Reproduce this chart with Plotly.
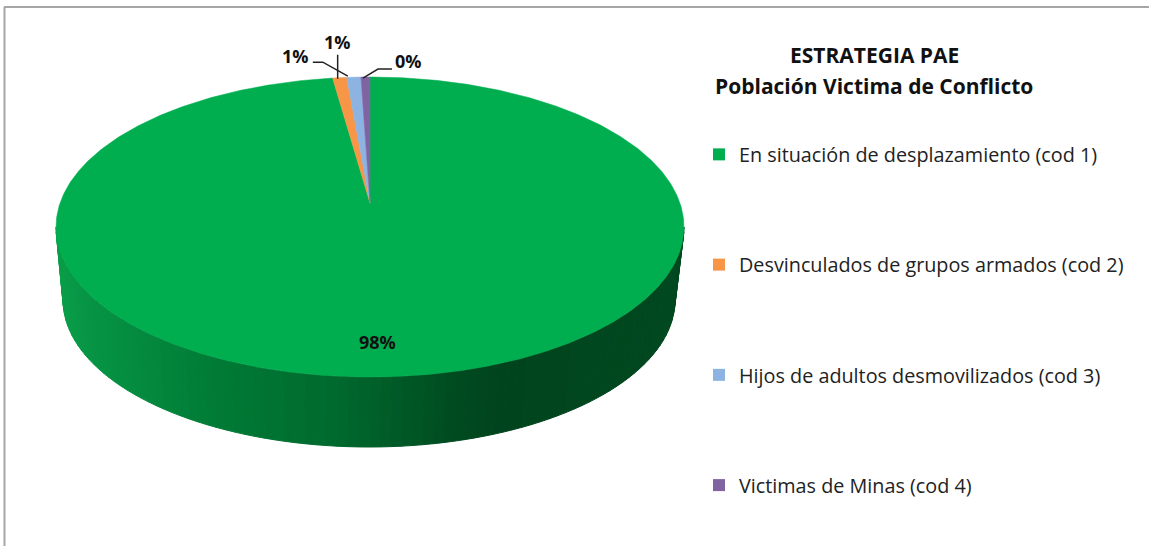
import numpy as np
import plotly.graph_objects as go

# ---- data ----
categories = ["En situación de desplazamiento (cod 1)", "Desvinculados de grupos armados (cod 2)",
              "Hijos de adultos desmovilizados (cod 3)", "Victimas de Minas (cod 4)"]
values = [98.1, 0.72, 0.72, 0.46]
colors = ["#00AE50", "#F79646", "#8DB3E2", "#8064A2"]
title_lines = ["ESTRATEGIA PAE", "Población Victima de Conflicto"]

# ---- view of the tilted pie: one data unit is the pie radius ----
W, H = 1149, 546
CX, CY, RX, RY = 370, 227, 314, 150
X_RANGE = [-CX / RX, (W - CX) / RX]
Y_RANGE = [(CY - H) / RY, CY / RY]
APEX_Y = 24 / RY                       # perspective moves the pie centre up
BOTTOM = dict(cx=-1 / RX, cy=-73 / RY, rx=306 / RX, ry=147 / RY)
FONT = "Open Sans"

def rim(a):
    """a = degrees clockwise from top."""
    t = np.radians(a)
    return np.sin(t), np.cos(t)

fig = go.Figure()

# side wall of the cylinder, shaded left to right
stops_x = [-1.0, -0.92, -0.52, -0.115, 0.29, 0.42, 1.0]
stops_rgb = np.array([[10, 158, 72], [6, 150, 69], [0, 124, 54], [0, 106, 46],
                      [0, 74, 32], [0, 68, 29], [0, 72, 31]], float)
phis = np.linspace(180, 360, 91)
for p0, p1 in zip(phis[:-1], phis[1:]):
    ang = np.radians(np.linspace(p0, p1, 3))
    xt, yt = np.cos(ang), np.sin(ang)
    xb = BOTTOM["cx"] + BOTTOM["rx"] * np.cos(ang)
    yb = BOTTOM["cy"] + BOTTOM["ry"] * np.sin(ang)
    mid = float(np.cos(np.radians((p0 + p1) / 2)))
    rgb = [int(round(np.interp(mid, stops_x, stops_rgb[:, i]))) for i in range(3)]
    col = f"rgb({rgb[0]},{rgb[1]},{rgb[2]})"
    fig.add_trace(go.Scatter(x=np.r_[xt, xb[::-1], xt[0]], y=np.r_[yt, yb[::-1], yt[0]],
                             mode="lines", fill="toself", fillcolor=col,
                             line=dict(color=col, width=1), hoverinfo="skip", showlegend=False))

# top face: slices run clockwise from 12 o'clock
total = sum(values)
edges = np.r_[0, np.cumsum(values)] / total * 360
for name, a0, a1, col in zip(categories, edges[:-1], edges[1:], colors):
    aa = np.linspace(a0, a1, max(3, int(a1 - a0) * 2))
    rx_, ry_ = rim(aa)
    xs, ys = np.r_[0, rx_, 0], np.r_[APEX_Y, ry_, APEX_Y]
    fig.add_trace(go.Scatter(x=xs, y=ys, mode="lines", fill="toself", fillcolor=col,
                             line=dict(color=col, width=0.5), name=name, legendgroup=name,
                             hoverinfo="skip", showlegend=False))

# legend keys
for name, col in zip(categories, colors):
    fig.add_trace(go.Scatter(x=[None], y=[None], mode="markers", name=name, legendgroup=name,
                             marker=dict(symbol="square", size=12, color=col)))

# data labels and leader lines, offsets given in pixels from each slice's rim midpoint
mids = (edges[:-1] + edges[1:]) / 2
annotations = []
offsets = [None, (-2, -36), (-58, -21), (43, -16)]
leaders = [None, [(-2, 1), (-2, -23)], [(-6, -1), (-31, -15), (-41, -15)], [(-2.5, 1), (12.5, -8), (26.5, -8)]]
label_font = dict(family=FONT, size=18, color="#111111")
for i, (v, m) in enumerate(zip(values, mids)):
    text = f"<b>{round(v / total * 100)}%</b>"
    if i == 0:
        annotations.append(dict(x=(377 - CX) / RX, y=(CY - 342) / RY, text=text, showarrow=False,
                                font=label_font, xref="x", yref="y", xanchor="center", yanchor="middle"))
        continue
    mx, my = rim(m)
    annotations.append(dict(x=mx + offsets[i][0] / RX, y=my - offsets[i][1] / RY, text=text,
                            showarrow=False, xref="x", yref="y", xanchor="center", yanchor="middle",
                            font=label_font))
    pts = [(mx + dx / RX, my - dy / RY) for dx, dy in leaders[i]]
    fig.add_trace(go.Scatter(x=[p[0] for p in pts], y=[p[1] for p in pts], mode="lines",
                             line=dict(color="#222222", width=1.5), hoverinfo="skip", showlegend=False))

# chart title
for line, py in zip(title_lines, [55, 86]):
    annotations.append(dict(x=874 / W, y=1 - py / H, xref="paper", yref="paper", text=f"<b>{line}</b>",
                            xanchor="center", yanchor="middle", showarrow=False,
                            font=dict(family=FONT, size=21, color="#111111")))

# chart frame (left and top edges only are in view)
shapes = [
    dict(type="line", xref="paper", yref="paper", x0=4.5 / W, x1=4.5 / W, y0=0, y1=1 - 7 / H,
         line=dict(color="#A6A6A6", width=2)),
    dict(type="line", xref="paper", yref="paper", x0=4 / W, x1=1, y0=1 - 7 / H, y1=1 - 7 / H,
         line=dict(color="#A6A6A6", width=2)),
]

fig.update_layout(
    width=W, height=H, margin=dict(l=0, r=0, t=0, b=0),
    paper_bgcolor="white", plot_bgcolor="white",
    xaxis=dict(range=X_RANGE, visible=False, fixedrange=True),
    yaxis=dict(range=Y_RANGE, visible=False, fixedrange=True),
    annotations=annotations, shapes=shapes,
    legend=dict(x=699 / W, y=1 - 135 / H, xanchor="left", yanchor="top",
                tracegroupgap=81.5, bgcolor="rgba(0,0,0,0)",
                font=dict(family=FONT, size=19.8, color="#222222")),
)
fig.write_html("out.html", config={"displayModeBar": False},
               post_script="document.body.style.margin='0';document.body.style.overflow='hidden';")
